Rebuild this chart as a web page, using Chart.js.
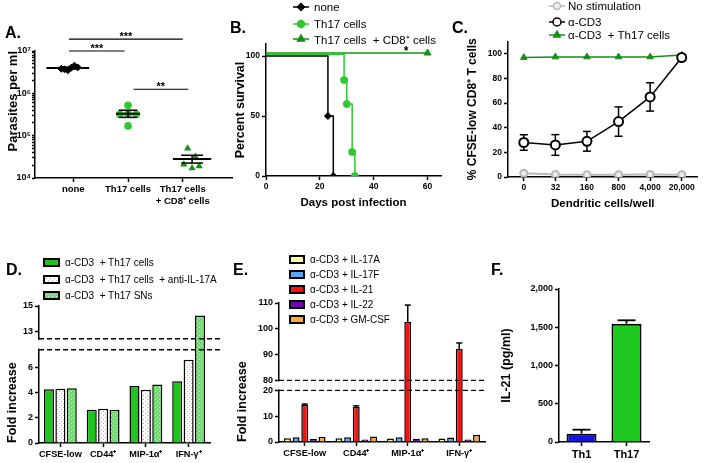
<!DOCTYPE html>
<html>
<head>
<meta charset="utf-8">
<title>Th17 cells figure</title>
<script src="https://cdn.jsdelivr.net/npm/chart.js"></script>
<style>
  html, body { margin: 0; padding: 0; background: #fff; }
  #fig { position: relative; width: 704px; height: 463px; overflow: hidden;
         font-family: "Liberation Sans", Arial, sans-serif; color: #000; }
  #fig canvas.chart { position: absolute; }
  .tag { position: absolute; font-size: 16px; line-height: 16px; font-weight: bold; }
  .leg { position: absolute; display: flex; align-items: center; height: 14px; white-space: pre; }
</style>
</head>
<body>
<div id="fig"></div>
<script>
// ---- A. parasites per ml ----
const groupsA = ['none', 'Th17 cells', ['Th17 cells', '+ CD8⁺ cells']];
const parasitesNone = [3.8e6, 3.7e6, 3.5e6, 4.0e6, 4.5e6, 4.1e6];
const parasitesTh17 = [3.2e5, 3.3e5, 3.2e5, 5.2e5, 1.7e5];
const parasitesCD8 = [5.0e4, 3.2e4, 2.1e4, 1.7e4, 1.9e4];
const meanA = [3.95e6, 3.3e5, 2.8e4];
const semLowA = [3.75e6, 2.7e5, 2.25e4];
const semHighA = [4.15e6, 4.0e5, 3.45e4];
const ticksA = [1e4, 1e5, 1e6, 1e7];
const starsA = ['***', '***', '**'];
const starLevelA = [1.9e7, 1.0e7, 1.25e6];
const starFromA = [-0.08, -0.08, 1.1];
const starToA = [2.0, 0.94, 2.1];
// where the dots sit inside each group
const jitterNone = [-0.22, -0.16, -0.1, -0.04, 0.02, 0.08];
const jitterTh17 = [0.85, 1.0, 1.15, 1.0, 1.0];
const jitterCD8 = [2.09, 2.23, 2.02, 2.17, 2.3];
const centerA = [-0.1, 1.0, 2.17];

// ---- B. survival ----
const daysNone = [0, 23, 25];
const survNone = [100, 50, 0];
const daysTh17 = [0, 29, 30, 32, 33];
const survTh17 = [101.5, 80, 60, 20, 0];
const daysCD8 = [0, 60];
const survCD8 = [102.5, 102.5];
const ticksBx = [0, 20, 40, 60];
const ticksBy = [0, 50, 100];

// ---- C. CFSE-low CD8 T cells ----
const dcPerWell = ['0', '32', '160', '800', '4,000', '20,000'];
const noStim = [3, 2, 1.8, 1.8, 2, 1.8];
const antiCD3 = [28, 26, 29, 45, 65, 97];
const antiCD3Sem = [6.3, 8.4, 8, 11.9, 11.5, 0];
const antiCD3Th17 = [97, 97.5, 97.5, 97.5, 97.5, 99];
const ticksC = [0, 20, 40, 60, 80, 100];

// ---- D. fold increase, Th17 cells ----
const markers = ['CFSE-low', 'CD44⁺', 'MIP-1α⁺', 'IFN-γ⁺'];
const foldTh17Cells = [4.26, 2.64, 4.52, 4.9];
const foldAntiIL17A = [4.3, 2.71, 4.23, 6.6];
const foldTh17SNs = [4.34, 2.64, 4.65, 14.25];
const ticksD = [0, 2, 4, 6, 13, 15];

// ---- E. fold increase, cytokines ----
const foldIL17A = [1.5, 1.5, 1.4, 1.4];
const foldIL17F = [1.8, 1.8, 1.8, 1.7];
const foldIL21 = [14.3, 13.6, 102.6, 92.2];
const errIL21 = [0.4, 0.4, 6.6, 2.3];
const foldIL22 = [1.2, 1.0, 1.3, 1.0];
const foldGMCSF = [2.0, 2.1, 1.5, 2.8];
const ticksE = [0, 10, 20, 80, 90, 100, 110];

// ---- F. IL-21 ----
const subsets = ['Th1', 'Th17'];
const il21 = [108, 1547];
const il21Sem = [53, 44];
const ticksF = [0, 500, 1000, 1500, 2000];

const GREEN = '#2ec92e';
const DARK_GREEN = '#178f17';
const GRAY = '#b8b8b8';
const BAR_GREEN = '#1fc41f';

Chart.defaults.font.family = "'Liberation Sans', Arial, sans-serif";
Chart.defaults.color = '#000';

const fig = document.getElementById('fig');

// axis with a gap in it (broken y axis)
class BrokenScale extends Chart.LinearScale {
  static id = 'broken';
  static defaults = {};
  buildTicks() {
    return this.options.tickValues.map(v => ({ value: v }));
  }
  getPixelForValue(v) {
    const b = this.options.brk;
    const k = (this.bottom - this.top - b.gap) / ((b.low - this.min) + (this.max - b.high));
    const lowTop = this.bottom - (b.low - this.min) * k;
    if (v <= b.low) return this.bottom - (v - this.min) * k;
    if (v >= b.high) return lowTop - b.gap - (v - b.high) * k;
    return lowTop - (v - b.low) / (b.high - b.low) * b.gap;
  }
  getValueForPixel(p) {
    const b = this.options.brk;
    const k = (this.bottom - this.top - b.gap) / ((b.low - this.min) + (this.max - b.high));
    const lowTop = this.bottom - (b.low - this.min) * k;
    if (p >= lowTop) return this.min + (this.bottom - p) / k;
    if (p <= lowTop - b.gap) return b.high + (lowTop - b.gap - p) / k;
    return b.low + (lowTop - p) / b.gap * (b.high - b.low);
  }
}
Chart.register(BrokenScale);

function place(area, yw, xh, pad) {
  const [l, t, r, b] = area;
  const [pt, pr, pb, pl] = pad;
  const L = l - yw - pl, T = t - pt, W = r + pr - L, H = b + xh + pb - T;
  const c = document.createElement('canvas');
  c.width = W; c.height = H;
  c.className = 'chart';
  c.style.cssText = `left:${L}px;top:${T}px;width:${W}px;height:${H}px`;
  fig.appendChild(c);
  return { canvas: c, padding: { top: pt, right: pr, bottom: pb, left: pl } };
}

function fixed(size) {
  return scale => {
    if (scale.isHorizontal()) scale.height = size; else scale.width = size;
    scale.paddingTop = scale.paddingBottom = scale.paddingLeft = scale.paddingRight = 0;
  };
}

function setTicks(values) {
  return scale => { scale.ticks = values.map(v => ({ value: v })); };
}

function ax(extra) {
  return Chart.helpers.merge({
    border: { color: '#000', width: 1.5 },
    grid: { drawOnChartArea: false, drawTicks: true, tickLength: 4, tickColor: '#000', tickWidth: 1.5, offset: false },
    ticks: { color: '#000', font: { size: 8.5, weight: 'bold' }, padding: 2, autoSkip: false, maxRotation: 0 },
  }, extra);
}

function yTitle(text, offset, size, align) {
  const lh = size * 1.2;
  return { display: true, text, color: '#000', align: align || 'center',
           font: { size, weight: 'bold' }, padding: { top: offset - lh / 2, bottom: 0 } };
}
function xTitle(text, fromBottom, size) {
  const lh = size * 1.2;
  return { display: true, text, color: '#000',
           font: { size, weight: 'bold' }, padding: { top: 0, bottom: fromBottom - lh / 2 } };
}

function base(p) {
  return {
    responsive: false, maintainAspectRatio: false, animation: false, devicePixelRatio: 1, events: [],
    layout: { padding: p.padding },
    plugins: { legend: { display: false }, tooltip: { enabled: false } },
  };
}

function hline(ctx, x1, x2, y) { ctx.beginPath(); ctx.moveTo(x1, y); ctx.lineTo(x2, y); ctx.stroke(); }
function vline(ctx, x, y1, y2) { ctx.beginPath(); ctx.moveTo(x, y1); ctx.lineTo(x, y2); ctx.stroke(); }

function dotsPattern(bg, dot) {
  const p = document.createElement('canvas');
  p.width = 4; p.height = 4;
  const g = p.getContext('2d');
  g.fillStyle = bg; g.fillRect(0, 0, 4, 4);
  g.fillStyle = dot; g.fillRect(1, 1, 1, 1); g.fillRect(3, 3, 1, 1);
  return g.createPattern(p, 'repeat');
}
const WHITE_DOTS = dotsPattern('#ffffff', '#b0b0b0');
const GREEN_DOTS = dotsPattern('#74d874', '#d2f4d2');

// legends (html)
function icon(w, h, paint) {
  const c = document.createElement('canvas');
  c.width = w; c.height = h;
  c.style.width = w + 'px'; c.style.height = h + 'px';
  paint(c.getContext('2d'), w, h);
  return c;
}
function lineIcon(color, pointStyle, radius, fill) {
  return icon(16, 10, (g, w, h) => {
    g.strokeStyle = color; g.lineWidth = 1.5;
    hline(g, 0, w, h / 2);
    g.fillStyle = fill || color;
    Chart.helpers.drawPoint(g, { pointStyle, radius, borderWidth: 1.5 }, w / 2, h / 2);
  });
}
function boxIcon(fill, w, h) {
  return icon(w, h, g => {
    g.fillStyle = fill; g.fillRect(1, 1, w - 2, h - 2);
    g.strokeStyle = '#000'; g.lineWidth = 2; g.strokeRect(1, 1, w - 2, h - 2);
  });
}
function legendRow(x, cy, el, gap, text, size) {
  const d = document.createElement('div');
  d.className = 'leg';
  d.style.left = x + 'px'; d.style.top = (cy - 7) + 'px'; d.style.fontSize = size + 'px';
  el.style.marginRight = gap + 'px';
  d.appendChild(el);
  d.appendChild(document.createTextNode(text));
  fig.appendChild(d);
}
function tag(text, x, y) {
  const d = document.createElement('div');
  d.className = 'tag'; d.textContent = text;
  d.style.left = x + 'px'; d.style.top = y + 'px';
  fig.appendChild(d);
}

// ================= A =================
const dotPlotExtras = {
  id: 'dotPlotExtras',
  afterDatasetsDraw(chart) {
    const { ctx, scales: { x, y } } = chart;
    const meanHalf = [0.39, 0.22, 0.35], capHalf = [0.15, 0.17, 0.2];
    ctx.save();
    ctx.strokeStyle = '#000';
    meanA.forEach((m, i) => {
      const c = centerA[i];
      ctx.lineWidth = 2;
      hline(ctx, x.getPixelForValue(c - meanHalf[i]), x.getPixelForValue(c + meanHalf[i]), y.getPixelForValue(m));
      ctx.lineWidth = 1.5;
      const xc = x.getPixelForValue(c);
      vline(ctx, xc, y.getPixelForValue(semLowA[i]), y.getPixelForValue(semHighA[i]));
      const x1 = x.getPixelForValue(c - capHalf[i]), x2 = x.getPixelForValue(c + capHalf[i]);
      hline(ctx, x1, x2, y.getPixelForValue(semLowA[i]));
      hline(ctx, x1, x2, y.getPixelForValue(semHighA[i]));
    });
    ctx.lineWidth = 1.2;
    ctx.fillStyle = '#000';
    ctx.font = "bold 11px 'Liberation Sans', Arial, sans-serif";
    ctx.textAlign = 'center';
    ctx.textBaseline = 'alphabetic';
    starsA.forEach((s, i) => {
      const py = y.getPixelForValue(starLevelA[i]);
      const x1 = x.getPixelForValue(starFromA[i]), x2 = x.getPixelForValue(starToA[i]);
      hline(ctx, x1, x2, py);
      ctx.fillText(s, (x1 + x2) / 2, py + 1);
    });
    ctx.restore();
  },
};

const pA = place([35, 51, 233, 178], 35, 32, [26, 4, 0, 0]);
const minorA = [];
for (let e = 4; e < 7; e++) for (let m = 1; m < 10; m++) minorA.push(m * Math.pow(10, e));
minorA.push(1e7);
const SUP = { 4: '⁴', 5: '⁵', 6: '⁶', 7: '⁷' };
new Chart(pA.canvas, {
  type: 'scatter',
  data: {
    datasets: [
      { data: parasitesNone.map((v, i) => ({ x: jitterNone[i], y: v })), pointStyle: 'rectRot',
        pointRadius: 3.5, backgroundColor: '#000', borderColor: '#000', borderWidth: 1 },
      { data: parasitesTh17.map((v, i) => ({ x: jitterTh17[i], y: v })), pointStyle: 'circle',
        pointRadius: 3.8, backgroundColor: GREEN, borderColor: GREEN, borderWidth: 0 },
      { data: parasitesCD8.map((v, i) => ({ x: jitterCD8[i], y: v })), pointStyle: 'triangle',
        pointRadius: 4.2, backgroundColor: DARK_GREEN, borderColor: DARK_GREEN, borderWidth: 0 },
    ],
  },
  options: {
    ...base(pA),
    scales: {
      x: ax({ type: 'linear', min: -0.7, max: 2.9, afterFit: fixed(32),
              afterBuildTicks: setTicks(groupsA.map((g, i) => i)),
              ticks: { font: { size: 9.5 }, callback: v => groupsA[v] } }),
      y: ax({ type: 'logarithmic', min: 1e4, max: 1e7, afterFit: fixed(35),
              afterBuildTicks: setTicks(minorA),
              grid: { tickLength: 3 },
              ticks: { padding: 1, font: { size: 9 },
                       callback: v => ticksA.includes(v) ? '10' + SUP[Math.round(Math.log10(v))] : '' },
              title: yTitle('Parasites per ml', 13, 13, 'end') }),
    },
  },
  plugins: [dotPlotExtras],
});
tag('A.', 5, 25);

// ================= B =================
const starB = { day: 52, survival: 106, text: '*' };
const survivalNote = {
  id: 'survivalNote',
  afterDatasetsDraw(chart) {
    const { ctx, scales: { x, y } } = chart;
    ctx.save();
    ctx.fillStyle = '#000';
    ctx.font = "bold 12px 'Liberation Sans', Arial, sans-serif";
    ctx.textAlign = 'center';
    ctx.textBaseline = 'middle';
    ctx.fillText(starB.text, x.getPixelForValue(starB.day), y.getPixelForValue(starB.survival) + 3);
    ctx.restore();
  },
};
const zip = (xs, ys) => xs.map((v, i) => ({ x: v, y: ys[i] }));
const pB = place([266, 43, 442, 176], 34, 35, [4, 4, 0, 0]);
new Chart(pB.canvas, {
  type: 'line',
  data: {
    datasets: [
      { data: zip(daysNone, survNone), stepped: true, borderColor: '#000', borderWidth: 1.5,
        pointStyle: 'rectRot', pointRadius: daysNone.map((d, i) => i ? 3.5 : 0),
        pointBackgroundColor: '#000', pointBorderColor: '#000', pointBorderWidth: 1 },
      { data: zip(daysTh17, survTh17), stepped: true, borderColor: GREEN, borderWidth: 1.5,
        pointStyle: 'circle', pointRadius: daysTh17.map((d, i) => i ? 3.5 : 0),
        pointBackgroundColor: GREEN, pointBorderColor: GREEN, pointBorderWidth: 1 },
      { data: zip(daysCD8, survCD8), stepped: true, borderColor: DARK_GREEN, borderWidth: 1.5,
        pointStyle: 'triangle', pointRadius: daysCD8.map((d, i) => i ? 4 : 0),
        pointBackgroundColor: DARK_GREEN, pointBorderColor: DARK_GREEN, pointBorderWidth: 1 },
    ],
  },
  options: {
    ...base(pB),
    scales: {
      x: ax({ type: 'linear', min: 0, max: 65, afterFit: fixed(35), afterBuildTicks: setTicks(ticksBx),
              title: xTitle('Days post infection', 8, 11.5) }),
      y: ax({ type: 'linear', min: 0, max: 110, afterFit: fixed(34), afterBuildTicks: setTicks(ticksBy),
              title: yTitle('Percent survival', 9, 12.5) }),
    },
  },
  plugins: [survivalNote],
});
tag('B.', 230, 20);
legendRow(293, 7, lineIcon('#000', 'rectRot', 3.5), 5, 'none', 11.5);
legendRow(293, 24, lineIcon(GREEN, 'circle', 3.5), 5, 'Th17 cells', 11.5);
legendRow(293, 39, lineIcon(DARK_GREEN, 'triangle', 4), 5, 'Th17 cells  + CD8⁺ cells', 11.5);

// ================= C =================
const errorBarsC = {
  id: 'errorBarsC',
  afterDatasetsDraw(chart) {
    const { ctx, scales: { y } } = chart;
    const meta = chart.getDatasetMeta(1);
    ctx.save();
    ctx.strokeStyle = '#000'; ctx.lineWidth = 1.5;
    antiCD3.forEach((v, i) => {
      if (!antiCD3Sem[i]) return;
      const px = meta.data[i].x;
      const yHi = y.getPixelForValue(v + antiCD3Sem[i]), yLo = y.getPixelForValue(v - antiCD3Sem[i]);
      vline(ctx, px, yHi, y.getPixelForValue(v) - 4.5);
      vline(ctx, px, y.getPixelForValue(v) + 4.5, yLo);
      hline(ctx, px - 4, px + 4, yHi);
      hline(ctx, px - 4, px + 4, yLo);
    });
    ctx.restore();
  },
};
const pC = place([508, 39, 702, 177], 45, 35, [4, 2, 0, 0]);
new Chart(pC.canvas, {
  type: 'line',
  data: {
    labels: dcPerWell,
    datasets: [
      { data: noStim, borderColor: GRAY, borderWidth: 2, pointStyle: 'circle', pointRadius: 3.5,
        pointBackgroundColor: '#ececec', pointBorderColor: GRAY, pointBorderWidth: 2 },
      { data: antiCD3, borderColor: '#000', borderWidth: 1.5, pointStyle: 'circle', pointRadius: 4.5,
        pointBackgroundColor: '#fff', pointBorderColor: '#000', pointBorderWidth: 2 },
      { data: antiCD3Th17, borderColor: DARK_GREEN, borderWidth: 1.5, pointStyle: 'triangle', pointRadius: 3.8,
        pointBackgroundColor: DARK_GREEN, pointBorderColor: DARK_GREEN, pointBorderWidth: 1 },
    ],
  },
  options: {
    ...base(pC),
    scales: {
      x: ax({ type: 'category', offset: true, afterFit: fixed(35),
              title: xTitle('Dendritic cells/well', 8, 11.5) }),
      y: ax({ type: 'linear', min: 0, max: 110, afterFit: fixed(45), afterBuildTicks: setTicks(ticksC),
              title: yTitle('% CFSE-low CD8⁺ T cells', 10, 12) }),
    },
  },
  plugins: [errorBarsC],
});
tag('C.', 452, 20);
legendRow(549, 6, lineIcon(GRAY, 'circle', 3.5, '#ececec'), 3, 'No stimulation', 11.5);
legendRow(549, 22, lineIcon('#000', 'circle', 4, '#fff'), 3, 'α-CD3', 11.5);
legendRow(549, 35, lineIcon(DARK_GREEN, 'triangle', 3.8), 3, 'α-CD3  + Th17 cells', 11.5);

// ================= D & E (broken axes) =================
const axisBreak = {
  id: 'axisBreak',
  afterDraw(chart, args, opts) {
    const { ctx, chartArea: area, scales: { y } } = chart;
    const b = y.options.brk;
    const yLow = y.getPixelForValue(b.low), yHigh = y.getPixelForValue(b.high);
    ctx.save();
    ctx.fillStyle = '#fff';
    ctx.fillRect(area.left - 2, yHigh + 1, 4, yLow - yHigh - 2);
    ctx.strokeStyle = '#000'; ctx.lineWidth = 1.4; ctx.setLineDash([5, 3]);
    hline(ctx, area.left, area.right + (opts.extend || 0), yLow);
    hline(ctx, area.left, area.right + (opts.extend || 0), yHigh);
    ctx.restore();
  },
};

const pD = place([39, 306, 210, 443], 39, 20, [6, 12, 0, 0]);
new Chart(pD.canvas, {
  type: 'bar',
  data: {
    labels: markers,
    datasets: [
      { data: foldTh17Cells, backgroundColor: BAR_GREEN },
      { data: foldAntiIL17A, backgroundColor: WHITE_DOTS },
      { data: foldTh17SNs, backgroundColor: GREEN_DOTS },
    ],
  },
  options: {
    ...base(pD),
    datasets: { bar: { borderColor: '#000', borderWidth: 1.5, categoryPercentage: 0.8, barPercentage: 0.88 } },
    plugins: { legend: { display: false }, tooltip: { enabled: false }, axisBreak: { extend: 10 } },
    scales: {
      x: ax({ type: 'category', offset: true, afterFit: fixed(20), ticks: { font: { size: 9.2 } } }),
      y: ax({ type: 'broken', min: 0, max: 15, brk: { low: 7.4, high: 12.4, gap: 11 }, tickValues: ticksD,
              afterFit: fixed(39), ticks: { font: { size: 9 } },
              title: yTitle('Fold increase', 13, 12.5, 'start') }),
    },
  },
  plugins: [axisBreak],
});
tag('D.', 6, 262);
legendRow(43, 262, boxIcon(BAR_GREEN, 17, 9), 5, 'α-CD3  + Th17 cells', 10);
legendRow(43, 279, boxIcon(WHITE_DOTS, 17, 9), 5, 'α-CD3  + Th17 cells  + anti-IL-17A', 10);
legendRow(43, 295, boxIcon(GREEN_DOTS, 17, 9), 5, 'α-CD3  + Th17 SNs', 10);

const errorBarsE = {
  id: 'errorBarsE',
  afterDatasetsDraw(chart) {
    const { ctx, scales: { y } } = chart;
    const meta = chart.getDatasetMeta(2);
    ctx.save();
    ctx.strokeStyle = '#000'; ctx.lineWidth = 1.5;
    foldIL21.forEach((v, i) => {
      const bar = meta.data[i];
      const top = y.getPixelForValue(v + errIL21[i]);
      vline(ctx, bar.x, y.getPixelForValue(v), top);
      hline(ctx, bar.x - 3, bar.x + 3, top);
    });
    ctx.restore();
  },
};
const CYT_COLORS = ['#ffffa0', '#55aaf5', '#ff1010', '#6a0ab0', '#ffaa40'];
const pE = place([279, 303, 485, 442], 46, 20, [6, 4, 0, 0]);
new Chart(pE.canvas, {
  type: 'bar',
  data: {
    labels: markers,
    datasets: [foldIL17A, foldIL17F, foldIL21, foldIL22, foldGMCSF].map((d, i) => ({
      data: d, backgroundColor: CYT_COLORS[i] })),
  },
  options: {
    ...base(pE),
    datasets: { bar: { borderColor: '#000', borderWidth: 1.5, categoryPercentage: 0.84, barPercentage: 0.8 } },
    plugins: { legend: { display: false }, tooltip: { enabled: false }, axisBreak: { extend: 0 } },
    scales: {
      x: ax({ type: 'category', offset: true, afterFit: fixed(20), ticks: { font: { size: 9.2 } } }),
      y: ax({ type: 'broken', min: 0, max: 110, brk: { low: 20, high: 80, gap: 10 }, tickValues: ticksE,
              afterFit: fixed(46), ticks: { font: { size: 9 } },
              title: yTitle('Fold increase', 10, 12.5, 'start') }),
    },
  },
  plugins: [errorBarsE, axisBreak],
});
tag('E.', 233, 262);
['α-CD3 + IL-17A', 'α-CD3 + IL-17F', 'α-CD3 + IL-21', 'α-CD3 + IL-22', 'α-CD3 + GM-CSF'].forEach((t, i) => {
  legendRow(289, 259 + i * 15, boxIcon(CYT_COLORS[i], 16, 9), 5, t, 10);
});

// ================= F =================
const errorBarsF = {
  id: 'errorBarsF',
  afterDatasetsDraw(chart) {
    const { ctx, scales: { y } } = chart;
    const meta = chart.getDatasetMeta(0);
    ctx.save();
    ctx.strokeStyle = '#000'; ctx.lineWidth = 1.8;
    il21.forEach((v, i) => {
      const bar = meta.data[i];
      const top = y.getPixelForValue(v + il21Sem[i]);
      vline(ctx, bar.x, y.getPixelForValue(v), top);
      hline(ctx, bar.x - 9, bar.x + 9, top);
    });
    ctx.restore();
  },
};
const pF = place([559, 289, 649, 442], 63, 21, [6, 4, 0, 0]);
new Chart(pF.canvas, {
  type: 'bar',
  data: {
    labels: subsets,
    datasets: [{ data: il21, backgroundColor: ['#1414e0', '#1ec81e'], borderColor: '#000', borderWidth: 2,
                 categoryPercentage: 1, barPercentage: 0.667 }],
  },
  options: {
    ...base(pF),
    scales: {
      x: ax({ type: 'category', offset: true, afterFit: fixed(21), ticks: { font: { size: 11 } } }),
      y: ax({ type: 'linear', min: 0, max: 2000, afterFit: fixed(63), afterBuildTicks: setTicks(ticksF),
              ticks: { font: { size: 9 }, callback: v => v.toLocaleString('en-US') },
              title: yTitle('IL-21 (pg/ml)', 11, 12.5) }),
    },
  },
  plugins: [errorBarsF],
});
tag('F.', 491, 262);
</script>
</body>
</html>
